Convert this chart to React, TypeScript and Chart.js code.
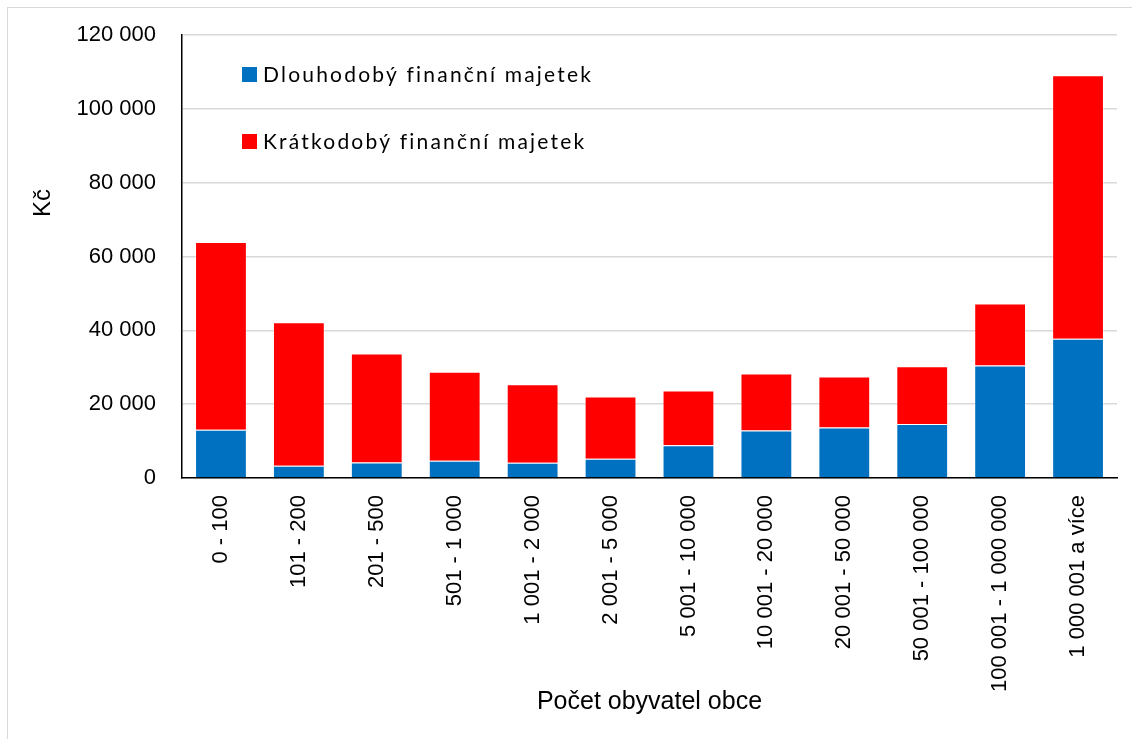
import React, { useEffect, useRef } from "react";
import { Chart, registerables } from "chart.js";

Chart.register(...registerables);

const categories = [
  "0 - 100",
  "101 - 200",
  "201 - 500",
  "501 - 1 000",
  "1 001 - 2 000",
  "2 001 - 5 000",
  "5 001 - 10 000",
  "10 001 - 20 000",
  "20 001 - 50 000",
  "50 001 - 100 000",
  "100 001 - 1 000 000",
  "1 000 001 a více",
];

const longTermValues = [13100, 3300, 4200, 4700, 4100, 5200, 8900, 12900, 13700, 14600, 30500, 37700];
const shortTermValues = [50800, 38900, 29500, 24100, 21300, 16900, 14800, 15400, 13800, 15700, 16800, 71400];

const seriesNames = ["Dlouhodobý finanční majetek", "Krátkodobý finanční majetek"];
const seriesColors = ["#0070C0", "#FF0000"];

const yMin = 0;
const yMax = 120000;
const yStep = 20000;

const yAxisTitle = "Kč";
const xAxisTitle = "Počet obyvatel obce";

const fmt = (v: number) => String(v).replace(/\B(?=(\d{3})+(?!\d))/g, " ");

const TICK_FONT = "'Liberation Sans', Arial, sans-serif";

const overlayPlugin = {
  id: "overlay",
  afterDraw(chart: any) {
    const { ctx, chartArea } = chart;
    ctx.save();
    // legend inside plot area
    ctx.font = "21px Lato, 'Open Sans', sans-serif";
    (ctx as any).letterSpacing = "2.2px";
    ctx.textBaseline = "alphabetic";
    ctx.textAlign = "left";
    const lx = chartArea.left + 60;
    const rows = [chartArea.top + 32, chartArea.top + 99];
    chart.data.datasets.forEach((ds: any, i: number) => {
      const top = rows[i];
      ctx.fillStyle = ds.backgroundColor;
      ctx.fillRect(lx, top, 15, 15);
      ctx.fillStyle = "#000";
      ctx.fillText(ds.label, lx + 21, top + 15);
    });
    (ctx as any).letterSpacing = "0px";
    ctx.restore();

    // y-axis title
    ctx.save();
    ctx.font = "24px " + TICK_FONT;
    ctx.fillStyle = "#000";
    ctx.translate(50, chartArea.top + 168);
    ctx.rotate(-Math.PI / 2);
    ctx.textAlign = "center";
    ctx.textBaseline = "alphabetic";
    ctx.fillText(yAxisTitle, 0, 0);
    ctx.restore();

    // x-axis title
    ctx.save();
    ctx.font = "25px " + TICK_FONT;
    ctx.fillStyle = "#000";
    ctx.textAlign = "center";
    ctx.textBaseline = "alphabetic";
    ctx.fillText(xAxisTitle, (chartArea.left + chartArea.right) / 2, 709);
    ctx.restore();
  },
};

export default function App() {
  const canvasRef = useRef<HTMLCanvasElement | null>(null);

  useEffect(() => {
    const canvas = canvasRef.current;
    if (!canvas) return;
    const chart = new Chart(canvas, {
      type: "bar",
      data: {
        labels: categories,
        datasets: [
          {
            label: seriesNames[0],
            data: longTermValues,
            backgroundColor: seriesColors[0],
            borderColor: "rgba(255,255,255,0.35)",
            borderWidth: 1,
            categoryPercentage: 1,
            barPercentage: 0.665,
          },
          {
            label: seriesNames[1],
            data: shortTermValues,
            backgroundColor: seriesColors[1],
            borderColor: "rgba(255,255,255,0.35)",
            borderWidth: 1,
            categoryPercentage: 1,
            barPercentage: 0.665,
          },
        ],
      },
      options: {
        animation: false,
        responsive: false,
        devicePixelRatio: 1,
        layout: { padding: { top: 35, right: 15, bottom: 0, left: 0 } },
        plugins: {
          legend: { display: false },
          tooltip: { enabled: false },
          title: { display: false },
        },
        scales: {
          x: {
            stacked: true,
            grid: { display: false, drawTicks: false },
            border: { display: true, color: "#000", width: 1.5 },
            ticks: {
              autoSkip: false,
              minRotation: 90,
              maxRotation: 90,
              padding: 17,
              color: "#000",
              font: { family: TICK_FONT, size: 22 },
            },
            afterFit: (s: any) => {
              s.height = 261;
              s.paddingLeft = 0;
              s.paddingRight = 0;
            },
          },
          y: {
            stacked: true,
            min: yMin,
            max: yMax,
            grid: { color: "#d9d9d9", lineWidth: 1.5, drawTicks: false },
            border: { display: true, color: "#000", width: 1.5 },
            ticks: {
              stepSize: yStep,
              padding: 26,
              color: "#000",
              font: { family: TICK_FONT, size: 22 },
              callback: (v: any) => fmt(Number(v)),
            },
            afterFit: (s: any) => {
              s.width = 182;
              s.paddingTop = 0;
              s.paddingBottom = 0;
            },
          },
        },
      },
      plugins: [overlayPlugin],
    });
    return () => chart.destroy();
  }, []);

  return (
    <>
      <div
        style={{
          position: "absolute",
          left: 7,
          top: 7,
          width: 1125,
          height: 732,
          borderLeft: "1px solid #d9d9d9",
          borderTop: "1px solid #d9d9d9",
          boxSizing: "border-box",
        }}
      />
      <canvas
        ref={canvasRef}
        width={1132}
        height={739}
        style={{ position: "absolute", left: 0, top: 0, width: 1132, height: 739 }}
      />
    </>
  );
}
